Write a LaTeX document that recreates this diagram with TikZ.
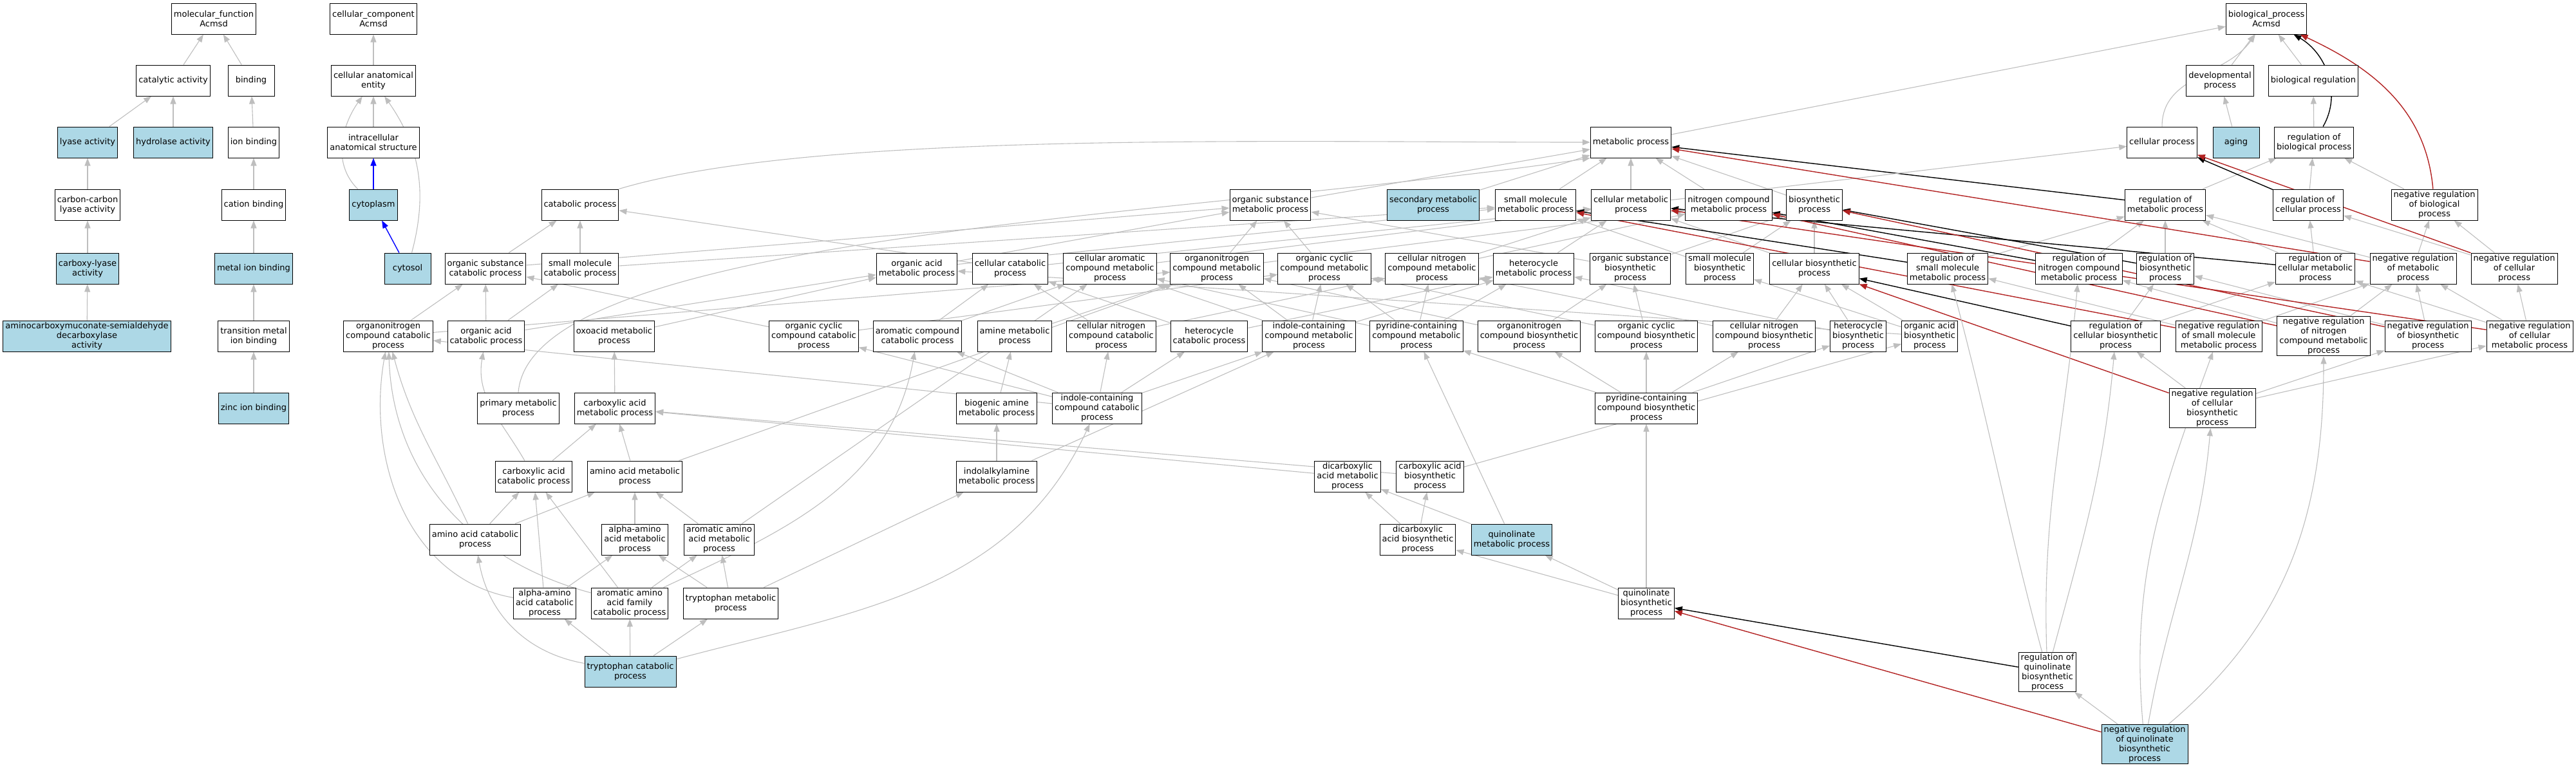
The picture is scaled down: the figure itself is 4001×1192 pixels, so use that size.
\documentclass[tikz,border=0pt]{standalone}
\usepackage{fontspec}
\setmainfont{DejaVu Sans}
\usetikzlibrary{arrows.meta}

\definecolor{hitblue}{HTML}{ADD8E6}
\definecolor{isagray}{HTML}{BEBEBE}
\definecolor{negred}{HTML}{B22222}
\pgfdeclarelayer{edges}
\pgfsetlayers{edges,main}
\tikzset{
  term/.style={draw=black, line width=1pt, fill=white, align=center,
    inner xsep=3.5pt, inner ysep=2pt, minimum width=72pt, minimum height=48pt,
    font=\fontsize{13}{15}\selectfont},
  hit/.style={term, fill=hitblue},
  isa/.style={draw=isagray, line width=1.1pt, -{Triangle[length=12pt,width=9pt]}},
  partof/.style={draw=blue, line width=1.4pt, -{Triangle[length=12pt,width=9pt]}},
  regs/.style={draw=black, line width=1.4pt, -{Triangle[length=12pt,width=9pt]}},
  negregs/.style={draw=negred, line width=1.4pt, -{Triangle[length=12pt,width=9pt]}}
}

\begin{document}
\begin{tikzpicture}[x=1pt,y=-1pt]
  \useasboundingbox (0,0) rectangle (4001,1192);
  % molecular function
  \node[term] (mf) at (332,29) {molecular\_function\\Acmsd};
  \node[term] (catact) at (269,125) {catalytic activity};
  \node[term] (bind) at (390,125) {binding};
  \node[hit] (lyase) at (136,221) {lyase activity};
  \node[hit] (hydro) at (269,221) {hydrolase activity};
  \node[term] (ionb) at (394,221) {ion binding};
  \node[term] (cclyase) at (136,318) {carbon-carbon\\lyase activity};
  \node[term] (catb) at (394,318) {cation binding};
  \node[hit] (carbly) at (136,417) {carboxy-lyase\\activity};
  \node[hit] (metb) at (394,417) {metal ion binding};
  \node[hit] (acmsd) at (135,522) {aminocarboxymuconate-semialdehyde\\decarboxylase\\activity};
  \node[term] (tmib) at (394,522) {transition metal\\ion binding};
  \node[hit] (zinc) at (394,634) {zinc ion binding};
  % cellular component
  \node[term] (cc) at (580,29) {cellular\_component\\Acmsd};
  \node[term] (cae) at (580,125) {cellular anatomical\\entity};
  \node[term] (ias) at (580,221) {intracellular\\anatomical structure};
  \node[hit] (cyto) at (580,318) {cytoplasm};
  \node[hit] (cytosol) at (633,417) {cytosol};
  % biological process
  \node[term] (bp) at (3520,29) {biological\_process\\Acmsd};
  \node[term] (dev) at (3448,125) {developmental\\process};
  \node[term] (bioreg) at (3593,125) {biological regulation};
  \node[term] (metab) at (2533,221) {metabolic process};
  \node[term] (cellp) at (3358,221) {cellular process};
  \node[hit] (aging) at (3473,221) {aging};
  \node[term] (regbio) at (3594,221) {regulation of\\biological process};
  % row 3
  \node[term] (catab) at (901,318) {catabolic process};
  \node[term] (osmp) at (1973,318) {organic substance\\metabolic process};
  \node[hit] (secmp) at (2226,318) {secondary metabolic\\process};
  \node[term] (smmp) at (2385,318) {small molecule\\metabolic process};
  \node[term] (cmp) at (2533,318) {cellular metabolic\\process};
  \node[term] (ncmp) at (2685,318) {nitrogen compound\\metabolic process};
  \node[term] (biosyn) at (2818,318) {biosynthetic\\process};
  \node[term] (regmp) at (3363,318) {regulation of\\metabolic process};
  \node[term] (regcp) at (3585,318) {regulation of\\cellular process};
  \node[term] (nregbiop) at (3781,318) {negative regulation\\of biological\\process};
  % row 4
  \node[term] (oscp) at (754,417) {organic substance\\catabolic process};
  \node[term] (smcp) at (901,417) {small molecule\\catabolic process};
  \node[term] (oamp) at (1424,417) {organic acid\\metabolic process};
  \node[term] (ccp) at (1569,417) {cellular catabolic\\process};
  \node[term] (cacmp) at (1724,417) {cellular aromatic\\compound metabolic\\process};
  \node[term] (oncmp) at (1890,417) {organonitrogen\\compound metabolic\\process};
  \node[term] (occmp) at (2057,417) {organic cyclic\\compound metabolic\\process};
  \node[term] (cncmp) at (2224,417) {cellular nitrogen\\compound metabolic\\process};
  \node[term] (hmp) at (2382,417) {heterocycle\\metabolic process};
  \node[term] (osbp) at (2532,417) {organic substance\\biosynthetic\\process};
  \node[term] (smbp) at (2671,417) {small molecule\\biosynthetic\\process};
  \node[term] (cbp) at (2818,417) {cellular biosynthetic\\process};
  \node[term] (regsmmp) at (3025,417) {regulation of\\small molecule\\metabolic process};
  \node[term] (regncmp) at (3229,417) {regulation of\\nitrogen compound\\metabolic process};
  \node[term] (regbp) at (3363,417) {regulation of\\biosynthetic\\process};
  \node[term] (regcmp) at (3596,417) {regulation of\\cellular metabolic\\process};
  \node[term] (nregmp) at (3748,417) {negative regulation\\of metabolic\\process};
  \node[term] (nregcp) at (3905,417) {negative regulation\\of cellular\\process};
  % row 5
  \node[term] (onccp) at (603,522) {organonitrogen\\compound catabolic\\process};
  \node[term] (oacp) at (755,522) {organic acid\\catabolic process};
  \node[term] (oxomp) at (954,522) {oxoacid metabolic\\process};
  \node[term] (occcp) at (1264,522) {organic cyclic\\compound catabolic\\process};
  \node[term] (accp) at (1425,522) {aromatic compound\\catabolic process};
  \node[term] (amp) at (1576,522) {amine metabolic\\process};
  \node[term] (cnccp) at (1726,522) {cellular nitrogen\\compound catabolic\\process};
  \node[term] (hcp) at (1878,522) {heterocycle\\catabolic process};
  \node[term] (icmp) at (2033,522) {indole-containing\\compound metabolic\\process};
  \node[term] (pcmp) at (2200,522) {pyridine-containing\\compound metabolic\\process};
  \node[term] (oncbp) at (2375,522) {organonitrogen\\compound biosynthetic\\process};
  \node[term] (occbp) at (2557,522) {organic cyclic\\compound biosynthetic\\process};
  \node[term] (cncbp) at (2740,522) {cellular nitrogen\\compound biosynthetic\\process};
  \node[term] (hbp) at (2886,522) {heterocycle\\biosynthetic\\process};
  \node[term] (oabp) at (2997,522) {organic acid\\biosynthetic\\process};
  \node[term] (regcbp) at (3286,522) {regulation of\\cellular biosynthetic\\process};
  \node[term] (nregsmmp) at (3446,522) {negative regulation\\of small molecule\\metabolic process};
  \node[term] (nregncmp) at (3609,522) {negative regulation\\of nitrogen\\compound metabolic\\process};
  \node[term] (nregbsp) at (3771,522) {negative regulation\\of biosynthetic\\process};
  \node[term] (nregcmp) at (3929,522) {negative regulation\\of cellular\\metabolic process};
  % row 6
  \node[term] (pmp) at (805,634) {primary metabolic\\process};
  \node[term] (camp) at (955,634) {carboxylic acid\\metabolic process};
  \node[term] (bamp) at (1548,634) {biogenic amine\\metabolic process};
  \node[term] (iccp) at (1704,634) {indole-containing\\compound catabolic\\process};
  \node[term] (pcbp) at (2557,634) {pyridine-containing\\compound biosynthetic\\process};
  \node[term] (nregcbp) at (3436,634) {negative regulation\\of cellular\\biosynthetic\\process};
  % row 7
  \node[term] (cacp) at (829,740) {carboxylic acid\\catabolic process};
  \node[term] (aamp) at (986,740) {amino acid metabolic\\process};
  \node[term] (iamp) at (1548,740) {indolalkylamine\\metabolic process};
  \node[term] (dcamp) at (2093,740) {dicarboxylic\\acid metabolic\\process};
  \node[term] (cabp) at (2221,740) {carboxylic acid\\biosynthetic\\process};
  % row 8
  \node[term] (aacp) at (738,838) {amino acid catabolic\\process};
  \node[term] (aaamp) at (986,838) {alpha-amino\\acid metabolic\\process};
  \node[term] (araamp) at (1117,838) {aromatic amino\\acid metabolic\\process};
  \node[term] (dcabp) at (2202,838) {dicarboxylic\\acid biosynthetic\\process};
  \node[hit] (qmp) at (2348,838) {quinolinate\\metabolic process};
  % row 9
  \node[term] (aaacp) at (846,937) {alpha-amino\\acid catabolic\\process};
  \node[term] (aaafcp) at (978,937) {aromatic amino\\acid family\\catabolic process};
  \node[term] (trpmp) at (1135,937) {tryptophan metabolic\\process};
  \node[term] (qbp) at (2557,937) {quinolinate\\biosynthetic\\process};
  % rows 10 and 11
  \node[hit] (trpcp) at (979,1043) {tryptophan catabolic\\process};
  \node[term] (regqbp) at (3180,1044) {regulation of\\quinolinate\\biosynthetic\\process};
  \node[hit] (nregqbp) at (3331,1156) {negative regulation\\of quinolinate\\biosynthetic\\process};

  \begin{pgfonlayer}{edges}
    % molecular function and cellular component
    \draw[isa] (catact) -- (mf); \draw[isa] (bind) -- (mf);
    \draw[isa] (lyase) -- (catact); \draw[isa] (hydro) -- (catact);
    \draw[isa] (ionb) -- (bind); \draw[isa] (cclyase) -- (lyase);
    \draw[isa] (carbly) -- (cclyase); \draw[isa] (acmsd) -- (carbly);
    \draw[isa] (catb) -- (ionb); \draw[isa] (metb) -- (catb);
    \draw[isa] (tmib) -- (metb); \draw[isa] (zinc) -- (tmib);
    \draw[isa] (cae) -- (cc); \draw[isa] (ias) -- (cae);
    \draw[partof] (cyto) -- (ias); \draw[partof] (cytosol) -- (cyto);
    \draw[isa] (cyto) to[out=135,in=-125] (cae);
    \draw[isa] (cytosol) to[out=75,in=-55] (cae);
    % top of biological process
    \draw[isa] (dev) -- (bp); \draw[isa] (bioreg) -- (bp);
    \draw[isa] (cellp) to[out=90,in=-125] (bp);
    \draw[isa] (metab) -- (bp);
    \draw[isa] (aging) -- (dev); \draw[isa] (regbio) -- (bioreg);
    \draw[regs] (regbio) to[out=60,in=-30] (bp);
    \draw[negregs] (nregbiop) to[out=95,in=-25] (bp);
    \draw[isa] (nregbiop) -- (regbio);
    \draw[isa] (regmp) -- (regbio); \draw[isa] (regcp) -- (regbio);
    \draw[regs] (regmp) -- (metab); \draw[regs] (regcp) -- (cellp);
    \draw[isa] (cmp) -- (cellp);
    \draw[isa] (catab.north east) .. controls +(300,-90) and +(-500,0) .. (metab.west);
    \draw[isa] (osmp) -- (metab);
    \draw[isa] (secmp) -- (metab); \draw[isa] (smmp) -- (metab);
    \draw[isa] (cmp) -- (metab); \draw[isa] (ncmp) -- (metab);
    \draw[isa] (biosyn) -- (metab);
    \draw[isa] (pmp.north) .. controls +(20,-250) and +(-600,90) .. (metab.south west);
    % row 4 up
    \draw[isa] (oscp) -- (catab); \draw[isa] (oscp) -- (osmp);
    \draw[isa] (smcp) -- (catab); \draw[isa] (smcp) -- (smmp);
    \draw[isa] (oamp) -- (smmp); \draw[isa] (oamp) -- (osmp);
    \draw[isa] (ccp) -- (catab); \draw[isa] (ccp) -- (cmp);
    \draw[isa] (cacmp) -- (cmp);
    \draw[isa] (oncmp) -- (osmp); \draw[isa] (oncmp) -- (ncmp);
    \draw[isa] (occmp) -- (osmp);
    \draw[isa] (cncmp) -- (cmp); \draw[isa] (cncmp) -- (ncmp);
    \draw[isa] (hmp) -- (cmp);
    \draw[isa] (osbp) -- (osmp); \draw[isa] (osbp) -- (biosyn);
    \draw[isa] (smbp) -- (smmp); \draw[isa] (smbp) -- (biosyn);
    \draw[isa] (cbp) -- (cmp); \draw[isa] (cbp) -- (biosyn);
    \draw[isa] (regsmmp) -- (regmp); \draw[isa] (regncmp) -- (regmp);
    \draw[isa] (regbp) -- (regmp);
    \draw[isa] (regcmp) -- (regmp); \draw[isa] (regcmp) -- (regcp);
    \draw[isa] (nregmp) -- (regmp); \draw[isa] (nregmp) -- (nregbiop);
    \draw[isa] (nregcp) -- (regcp); \draw[isa] (nregcp) -- (nregbiop);
    \draw[regs] (regsmmp) -- (smmp); \draw[regs] (regncmp) -- (ncmp);
    \draw[regs] (regbp) -- (biosyn); \draw[regs] (regcmp) -- (cmp);
    \draw[negregs] (nregmp) -- (metab); \draw[negregs] (nregcp) -- (cellp);
    % row 5 up
    \draw[isa] (onccp) -- (oscp); \draw[isa] (onccp) -- (oncmp);
    \draw[isa] (oacp) -- (oscp); \draw[isa] (oacp) -- (smcp); \draw[isa] (oacp) -- (oamp);
    \draw[isa] (oxomp) -- (oamp);
    \draw[isa] (occcp) -- (oscp); \draw[isa] (occcp) -- (occmp);
    \draw[isa] (accp) -- (ccp); \draw[isa] (accp) -- (cacmp);
    \draw[isa] (amp) -- (oncmp);
    \draw[isa] (cnccp) -- (ccp); \draw[isa] (cnccp) -- (cncmp);
    \draw[isa] (hcp) -- (ccp); \draw[isa] (hcp) -- (hmp);
    \draw[isa] (icmp) -- (oncmp); \draw[isa] (icmp) -- (occmp);
    \draw[isa] (icmp) -- (hmp); \draw[isa] (icmp) -- (cacmp);
    \draw[isa] (pcmp) -- (occmp); \draw[isa] (pcmp) -- (hmp);
    \draw[isa] (pcmp) -- (cncmp); \draw[isa] (pcmp) -- (cacmp);
    \draw[isa] (oncbp) -- (oncmp); \draw[isa] (oncbp) -- (osbp);
    \draw[isa] (occbp) -- (occmp); \draw[isa] (occbp) -- (osbp);
    \draw[isa] (cncbp) -- (cncmp); \draw[isa] (cncbp) -- (cbp);
    \draw[isa] (hbp) -- (hmp); \draw[isa] (hbp) -- (cbp);
    \draw[isa] (oabp) -- (oamp); \draw[isa] (oabp) -- (smbp); \draw[isa] (oabp) -- (cbp);
    \draw[isa] (regcbp) -- (regbp); \draw[isa] (regcbp) -- (regcmp);
    \draw[regs] (regcbp) -- (cbp);
    \draw[isa] (nregsmmp) -- (regsmmp); \draw[isa] (nregsmmp) -- (nregmp);
    \draw[negregs] (nregsmmp) -- (smmp);
    \draw[isa] (nregncmp) -- (regncmp); \draw[isa] (nregncmp) -- (nregmp);
    \draw[negregs] (nregncmp) -- (ncmp);
    \draw[isa] (nregbsp) -- (regbp); \draw[isa] (nregbsp) -- (nregmp);
    \draw[negregs] (nregbsp) -- (biosyn);
    \draw[isa] (nregcmp) -- (regcmp); \draw[isa] (nregcmp) -- (nregmp);
    \draw[isa] (nregcmp) -- (nregcp);
    \draw[negregs] (nregcmp) -- (cmp);
    % row 6 up
    \draw[isa] (camp) -- (oxomp); \draw[isa] (bamp) -- (amp);
    \draw[isa] (iccp) -- (icmp); \draw[isa] (iccp) -- (hcp);
    \draw[isa] (iccp) -- (cnccp); \draw[isa] (iccp) -- (accp);
    \draw[isa] (iccp) -- (occcp); \draw[isa] (iccp) -- (onccp);
    \draw[isa] (pcbp) -- (pcmp); \draw[isa] (pcbp) -- (oncbp);
    \draw[isa] (pcbp) -- (occbp); \draw[isa] (pcbp) -- (cncbp);
    \draw[isa] (pcbp) -- (hbp);
    \draw[isa] (nregcbp) -- (regcbp); \draw[isa] (nregcbp) -- (nregbsp);
    \draw[isa] (nregcbp) -- (nregcmp);
    \draw[negregs] (nregcbp) -- (cbp);
    % row 7 up
    \draw[isa] (cacp) -- (camp); \draw[isa] (cacp) to[out=120,in=-100] (oacp);
    \draw[isa] (aamp) -- (camp); \draw[isa] (aamp) -- (oncmp);
    \draw[isa] (iamp) -- (bamp); \draw[isa] (iamp) -- (icmp);
    \draw[isa] (dcamp) -- (camp);
    \draw[isa] (cabp) -- (camp); \draw[isa] (cabp) -- (oabp);
    % row 8 up
    \draw[isa] (aacp) -- (cacp); \draw[isa] (aacp) -- (aamp);
    \draw[isa] (aacp) to[out=115,in=-75] (onccp);
    \draw[isa] (aaamp) -- (aamp);
    \draw[isa] (araamp) -- (aamp); \draw[isa] (araamp) -- (cacmp);
    \draw[isa] (dcabp) -- (dcamp); \draw[isa] (dcabp) -- (cabp);
    \draw[isa] (qmp) -- (dcamp); \draw[isa] (qmp) -- (pcmp);
    % row 9 up
    \draw[isa] (aaacp) -- (aaamp); \draw[isa] (aaacp) -- (cacp);
    \draw[isa] (aaacp) to[out=170,in=-100] (onccp);
    \draw[isa] (aaafcp) -- (araamp); \draw[isa] (aaafcp) -- (cacp);
    \draw[isa] (aaafcp) to[out=165,in=-88] (onccp);
    \draw[isa] (aaafcp) to[out=25,in=-100] (accp);
    \draw[isa] (trpmp) -- (araamp); \draw[isa] (trpmp) -- (aaamp);
    \draw[isa] (trpmp) -- (iamp);
    \draw[isa] (qbp) -- (qmp); \draw[isa] (qbp) -- (dcabp); \draw[isa] (qbp) -- (pcbp);
    % rows 10 and 11 up
    \draw[isa] (trpcp) -- (aaacp); \draw[isa] (trpcp) -- (aaafcp);
    \draw[isa] (trpcp) -- (trpmp);
    \draw[isa] (trpcp) to[out=170,in=-80] (aacp);
    \draw[isa] (trpcp) to[out=15,in=-115] (iccp);
    \draw[isa] (regqbp) to[out=75,in=-95] (regcbp);
    \draw[isa] (regqbp) to[out=105,in=-75] (regsmmp);
    \draw[isa] (regqbp) to[out=92,in=-95] (regncmp);
    \draw[regs] (regqbp) -- (qbp);
    \draw[isa] (nregqbp) -- (regqbp);
    \draw[isa] (nregqbp) to[out=80,in=-95] (nregcbp);
    \draw[isa] (nregqbp) to[out=95,in=-110] (nregsmmp);
    \draw[isa] (nregqbp) to[out=40,in=-90] (nregncmp);
    \draw[negregs] (nregqbp) -- (qbp);
  \end{pgfonlayer}
\end{tikzpicture}
\end{document}
